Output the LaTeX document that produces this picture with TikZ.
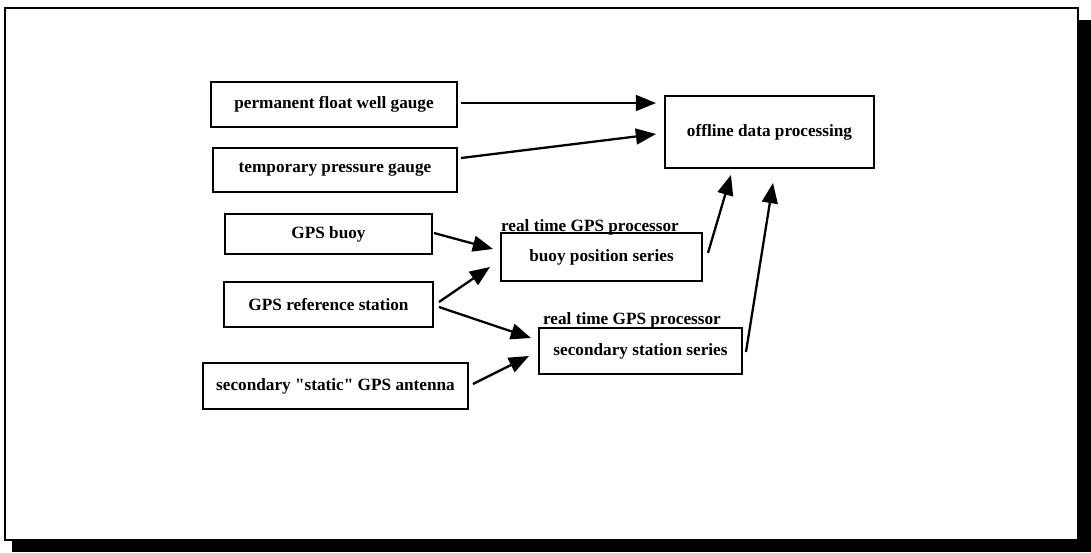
\documentclass[tikz,border=0pt]{standalone}
\usepackage{fontspec}
\setmainfont{Liberation Serif}
\newfontfamily\boxfont{Liberation Serif}
\usepackage{tikz}
\usetikzlibrary{calc,arrows.meta}

\newcommand{\pxu}{0.02cm}

\begin{document}
\begin{tikzpicture}[x=\pxu, y=-\pxu,
  box/.style={draw=black, line width=1.1pt, rectangle, inner sep=0pt,
              font=\boxfont\fontsize{9.8}{11}\selectfont\bfseries},
  proclabel/.style={anchor=base, inner sep=0pt, font=\boxfont\fontsize{9.8}{11}\selectfont\bfseries},
  feed/.style={black, line width=1.3pt, -{Triangle[length=11.5pt, width=9pt]}}]

\useasboundingbox (0,0) rectangle (1091,552);

% frame with shadow
\fill[black] (12,20) rectangle (1091,552);
\fill[white] (5,8) rectangle (1078,540);
\draw[black, line width=1.4pt] (5,8) rectangle (1078,540);

   \node (pfwg) at (334,104.5) [box, minimum width=246*\pxu, minimum height=45*\pxu] {permanent float well gauge};
   \node (tpg) at (335,170) [box, minimum width=244*\pxu, minimum height=44*\pxu] {temporary pressure gauge};
   \node (gpsbuoy) at (328.5,234) [box, minimum width=207*\pxu, minimum height=40*\pxu] {GPS buoy};
   \node (gpsref) at (328.5,304.5) [box, minimum width=209*\pxu, minimum height=45*\pxu] {GPS reference station};
   \node (static) at (335.5,386) [box, minimum width=265*\pxu, minimum height=46*\pxu] {secondary "static" GPS antenna};

   \node (offline) at (769.5,132) [box, minimum width=209*\pxu, minimum height=72*\pxu] {offline data processing};
   \node (buoypos) at (601.5,257) [box, minimum width=201*\pxu, minimum height=48*\pxu] {buoy position series};
   \node (secstation) at (640.5,351) [box, minimum width=203*\pxu, minimum height=46*\pxu] {secondary station series};

 \node (proc1) at (590,231) [proclabel] {real time GPS processor};
 \node (proc2) at (632,324) [proclabel] {real time GPS processor};

% gauges into offline processing
\draw[feed] ($(pfwg.east)+(3,-1.5)$) -- ($(offline.west)+(-8,-29)$);
\draw[feed] ($(tpg.east)+(3,-12)$) -- ($(offline.west)+(-8,2)$);

% GPS into real time processors
\draw[feed] ($(gpsbuoy.east)+(1,-1)$) -- ($(buoypos.west)+(-7,-8)$);
\draw[feed] ($(gpsref.east)+(5,-2.5)$) -- ($(buoypos.west)+(-10,10)$);
\draw[feed] ($(gpsref.east)+(5,2.5)$) -- ($(secstation.west)+(-7,-13)$);
\draw[feed] ($(static.east)+(4,-2)$) -- ($(secstation.west)+(-9,5)$);

% series into offline processing
\draw[feed] ($(buoypos.east)+(5,-4)$) -- ($(offline.south)+(-38.5,6)$);
\draw[feed] ($(secstation.east)+(3,1)$) -- ($(offline.south)+(3.5,14)$);

    \end{tikzpicture}
\end{document}
